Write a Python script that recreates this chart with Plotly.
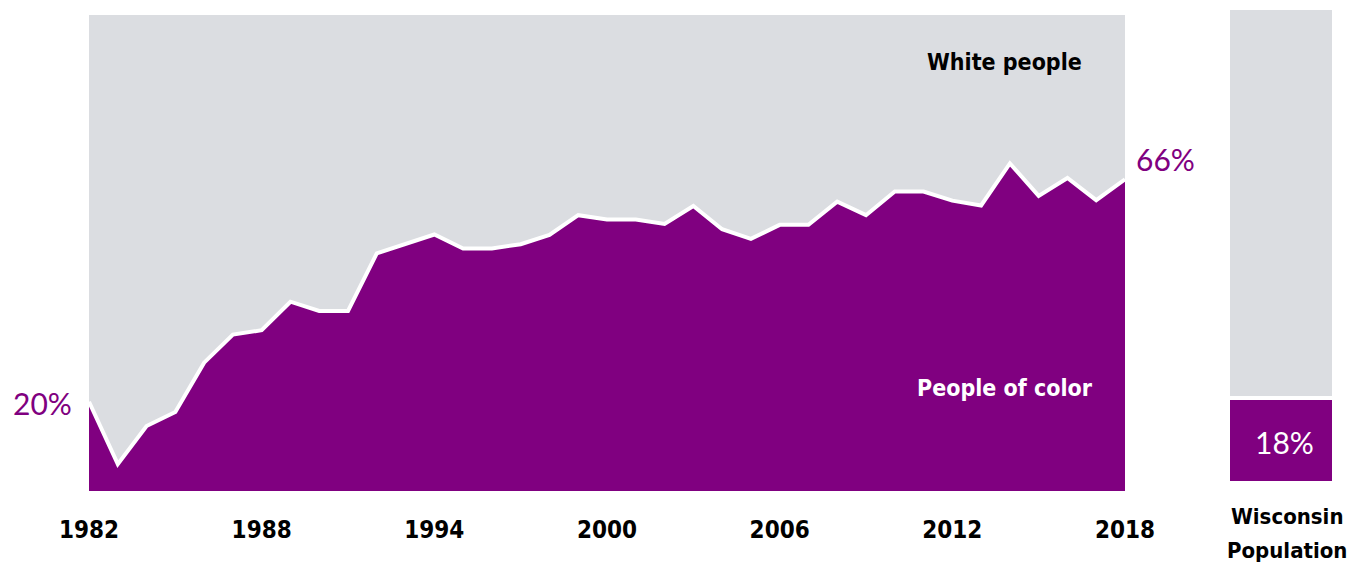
import plotly.graph_objects as go

W, H = 1353, 566

# Share of people of color, by year (percent)
years = list(range(1982, 2019))
people_of_color = [
    20.0, 7.1, 15.0, 17.9, 28.1, 33.9, 34.8, 40.7, 38.8, 38.8,
    50.7, 52.6, 54.6, 51.7, 51.7, 52.6, 54.5, 58.6, 57.7, 57.7,
    56.8, 60.5, 55.7, 53.7, 56.6, 56.6, 61.4, 58.6, 63.5, 63.5,
    61.6, 60.6, 69.3, 62.6, 66.3, 61.7, 66.0,
]
white_people = [round(100 - v, 1) for v in people_of_color]

tick_years = [1982, 1988, 1994, 2000, 2006, 2012, 2018]

# Statewide population split (percent)
state_label = ["Wisconsin"]
state_poc = [18]
state_white = [82]

PURPLE = "#800080"
GRAY = "#dbdde1"
NARROW = "DejaVu Sans Condensed, Roboto"
PCT_FONT = "Lato"


def px(x):
    return x / W


def py(y):
    return 1 - y / H


fig = go.Figure()

fig.add_trace(go.Scatter(
    x=years, y=people_of_color, stackgroup="share", mode="lines",
    line=dict(color="white", width=4), fillcolor=PURPLE,
    xaxis="x", yaxis="y", hoverinfo="skip",
))
fig.add_trace(go.Scatter(
    x=years, y=white_people, stackgroup="share", mode="lines",
    line=dict(color=GRAY, width=0), fillcolor=GRAY,
    xaxis="x", yaxis="y", hoverinfo="skip",
))

fig.add_trace(go.Bar(
    x=state_label, y=state_poc, marker=dict(color=PURPLE, line=dict(color="white", width=4)),
    xaxis="x2", yaxis="y2", hoverinfo="skip",
))
fig.add_trace(go.Bar(
    x=state_label, y=state_white, marker=dict(color=GRAY, line=dict(color="white", width=4)),
    xaxis="x2", yaxis="y2", hoverinfo="skip",
))

annotations = [
    dict(text="<b>White people</b>", x=px(1004), y=py(62), font=dict(family=NARROW, size=23, color="black")),
    dict(text="<b>People of color</b>", x=px(1005), y=py(388), font=dict(family=NARROW, size=23, color="white")),
    dict(text=f"{people_of_color[0]:.0f}%", x=px(42), y=py(403), font=dict(family=PCT_FONT, size=30, color=PURPLE)),
    dict(text=f"{people_of_color[-1]:.0f}%", x=px(1165), y=py(159), font=dict(family=PCT_FONT, size=30, color=PURPLE)),
    dict(text=f"{state_poc[0]}%", x=px(1284), y=py(442), font=dict(family=PCT_FONT, size=30, color="white")),
    dict(text="<b>Wisconsin</b>", x=px(1287), y=py(516), font=dict(family=NARROW, size=22, color="black")),
    dict(text="<b>Population</b>", x=px(1287), y=py(550), font=dict(family=NARROW, size=22, color="black")),
]
for a in annotations:
    a.update(xref="paper", yref="paper", showarrow=False, xanchor="center", yanchor="middle")

fig.update_layout(
    width=W, height=H,
    margin=dict(l=0, r=0, t=0, b=0, autoexpand=False),
    paper_bgcolor="white", plot_bgcolor="white",
    showlegend=False,
    barmode="stack", bargap=0,
    annotations=annotations,
    xaxis=dict(
        domain=[px(89), px(1125)], range=[1982, 2018], automargin=False,
        tickvals=tick_years, ticktext=[f"<b>{t}</b>" for t in tick_years],
        tickfont=dict(family=NARROW, size=24, color="black"),
        showgrid=False, zeroline=False, showline=False, ticks="",
        ticklabelstandoff=22,
    ),
    yaxis=dict(
        domain=[py(491), py(15)], range=[1.55, 100], automargin=False,
        showgrid=False, zeroline=False, showline=False, showticklabels=False,
    ),
    xaxis2=dict(
        domain=[px(1228), px(1334)], anchor="y2", automargin=False,
        showgrid=False, zeroline=False, showline=False, showticklabels=False,
    ),
    yaxis2=dict(
        domain=[py(483), py(8)], range=[0, 100], anchor="x2", automargin=False,
        showgrid=False, zeroline=False, showline=False, showticklabels=False,
    ),
)

fig.write_html("out.html")
